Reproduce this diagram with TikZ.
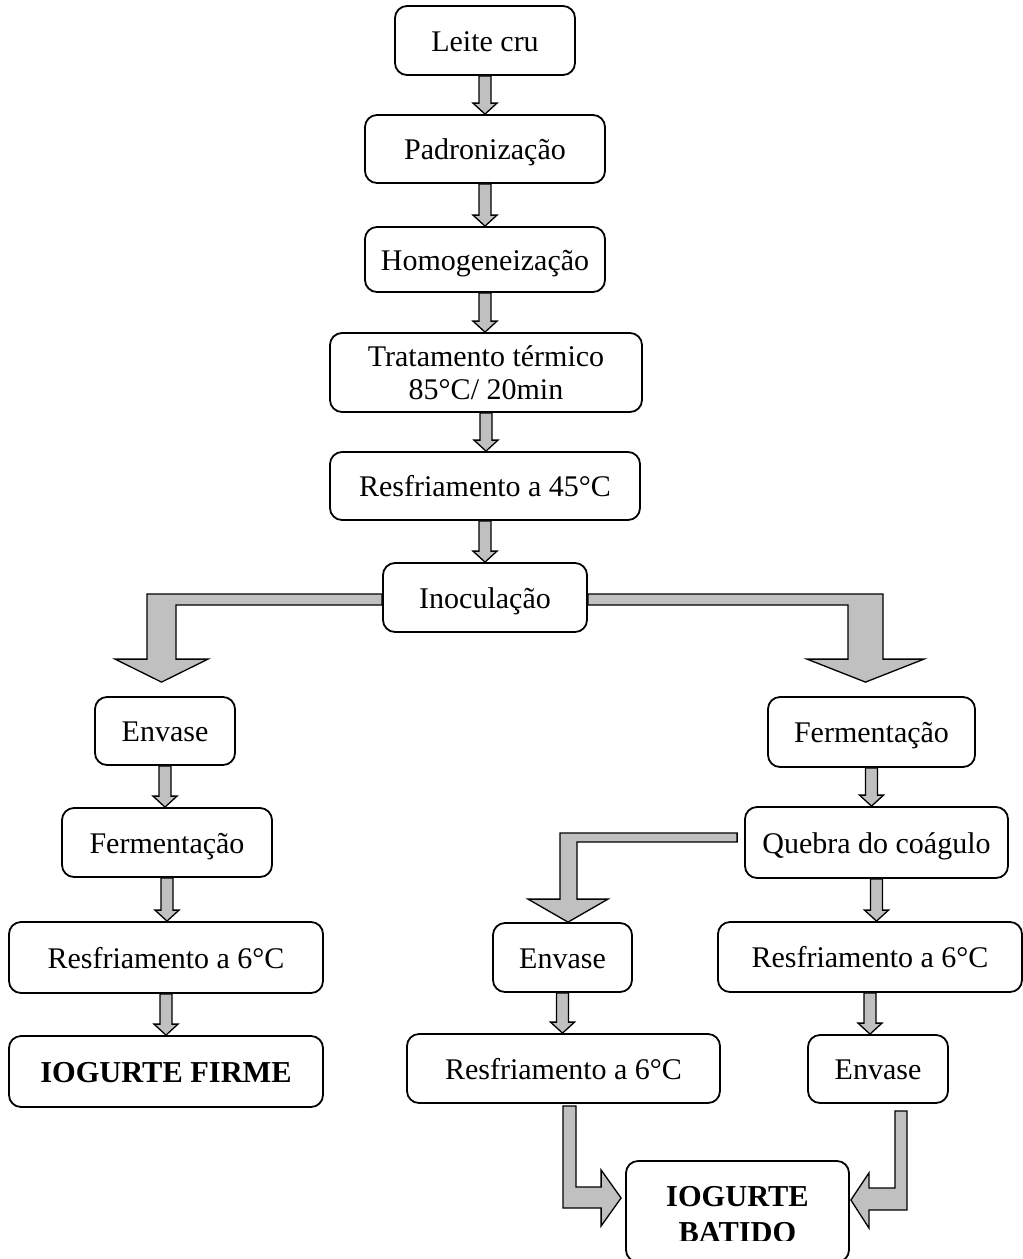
\documentclass[tikz,border=0pt]{standalone}
\usepackage{fontspec}
\setmainfont{Liberation Serif}
\usetikzlibrary{calc}
\definecolor{arrgray}{RGB}{192,192,192}
\tikzset{
  boxbase/.style={draw=black, line width=1.8pt, rounded corners=12pt, inner sep=0pt,
    align=center, font=\fontsize{30}{33}\selectfont},
  box/.style={boxbase, text height=24pt, text depth=3pt},
  bigbox/.style={box, font=\bfseries\fontsize{30.4}{37}\selectfont},
  arrstyle/.style={draw=black, fill=arrgray, line width=1.3pt, line join=miter}
}
\newcommand\smallarr[2]{%
  \draw[arrstyle] let \p1=(#1.south), \p2=(#2.north) in
   (\x1-6pt,\y1) -- (\x1+6pt,\y1) -- (\x1+6pt,\y2+11pt) -- (\x1+12pt,\y2+11pt)
   -- (\x1,\y2) -- (\x1-12pt,\y2+11pt) -- (\x1-6pt,\y2+11pt) -- cycle;}
\begin{document}
\begin{tikzpicture}[x=1pt,y=-1pt]
\useasboundingbox (0,0) rectangle (1023,1259);
% main column
\node[box, minimum width=180, minimum height=69] (leite) at (485,40.5) {Leite cru};
\node[box, minimum width=240, minimum height=68] (padr) at (485,149) {Padronização};
\node[box, minimum width=240, minimum height=65] (homo) at (485,259.5) {Homogeneização};
\node[boxbase, minimum width=312, minimum height=79] (trat) at (486,372.5) {Tratamento térmico\\85°C/ 20min};
\node[box, minimum width=310, minimum height=68] (resf45) at (485,486) {Resfriamento a 45°C};
\node[box, minimum width=204, minimum height=69] (inoc) at (485,597.5) {Inoculação};
% left branch
\node[box, minimum width=140, minimum height=68] (envL) at (165,731) {Envase};
\node[box, minimum width=210, minimum height=69] (fermL) at (167,842.5) {Fermentação};
\node[box, minimum width=314, minimum height=71] (resfL) at (166,957.5) {Resfriamento a 6°C};
\node[bigbox, minimum width=314, minimum height=71] (firme) at (166,1071.5) {IOGURTE FIRME};
% right branch
\node[box, minimum width=207, minimum height=70] (fermR) at (871.5,732) {Fermentação};
\node[box, minimum width=263, minimum height=71] (quebra) at (876.5,842.5) {Quebra do coágulo};
\node[box, minimum width=139, minimum height=69] (envM) at (562.5,957.5) {Envase};
\node[box, minimum width=304, minimum height=70] (resfR) at (870,957) {Resfriamento a 6°C};
\node[box, minimum width=313, minimum height=69] (resfM) at (563.5,1068.5) {Resfriamento a 6°C};
\node[box, minimum width=140, minimum height=68] (envR) at (878,1069) {Envase};
\node[boxbase, minimum width=223, minimum height=101] (batido) at (737.5,1211.5) {};
\begin{scope}
\clip (630,1150) rectangle (845,1240);
\node[font=\bfseries\fontsize{30.4}{36}\selectfont, align=center, inner sep=0pt]
  (batidotext) at (737.5,1215) {IOGURTE\\BATIDO};
\end{scope}
% small arrows
\smallarr{leite}{padr}
\smallarr{padr}{homo}
\smallarr{homo}{trat}
\smallarr{trat}{resf45}
\smallarr{resf45}{inoc}
\smallarr{envL}{fermL}
\smallarr{fermL}{resfL}
\smallarr{resfL}{firme}
\smallarr{fermR}{quebra}
\smallarr{quebra}{resfR}
\smallarr{resfR}{envR}
\smallarr{envM}{resfM}
% big bent arrows
\draw[arrstyle] let \p1=(inoc.west), \p2=(envL.north) in
  (\x1,\y1+3.5pt) -- (\x2-18pt,\y1+3.5pt) -- (\x2-18pt,\y2+37pt) -- (\x2-50pt,\y2+37pt)
  -- (\x2-3.5pt,\y2+14pt) -- (\x2+43pt,\y2+37pt) -- (\x2+11pt,\y2+37pt)
  -- (\x2+11pt,\y1-7.5pt) -- (\x1,\y1-7.5pt) -- cycle;
\draw[arrstyle] let \p1=(inoc.east), \p2=(fermR.north) in
  (\x1,\y1+3.5pt) -- (\x2+11.5pt,\y1+3.5pt) -- (\x2+11.5pt,\y2+37pt) -- (\x2+52.5pt,\y2+37pt)
  -- (\x2-6pt,\y2+14pt) -- (\x2-64.5pt,\y2+37pt) -- (\x2-23.5pt,\y2+37pt)
  -- (\x2-23.5pt,\y1-7.5pt) -- (\x1,\y1-7.5pt) -- cycle;
\draw[arrstyle] let \p1=(quebra.west), \p2=(envM.north) in
  (\x1-7pt,\y1+9.5pt) -- (\x2-2.5pt,\y1+9.5pt) -- (\x2-2.5pt,\y2+23pt) -- (\x2-34.5pt,\y2+23pt)
  -- (\x2+5.5pt,\y2) -- (\x2+45.5pt,\y2+23pt) -- (\x2+14.5pt,\y2+23pt)
  -- (\x2+14.5pt,\y1+0.5pt) -- (\x1-7pt,\y1+0.5pt) -- cycle;
\draw[arrstyle] let \p1=(resfM.south), \p2=(batido.west) in
  (\x1-0.5pt,\y1-2pt) -- (\x1+12.5pt,\y1-2pt) -- (\x1+12.5pt,\y2+24.5pt) -- (\x2-24pt,\y2+24.5pt)
  -- (\x2-24pt,\y2+41.5pt) -- (\x2-4pt,\y2+13.5pt) -- (\x2-24pt,\y2-14.5pt)
  -- (\x2-24pt,\y2+3.5pt) -- (\x1-0.5pt,\y2+3.5pt) -- cycle;
\draw[arrstyle] let \p1=(envR.south), \p2=(batido.east) in
  (\x1+17pt,\y1-7pt) -- (\x1+29pt,\y1-7pt) -- (\x1+29pt,\y2+1.5pt) -- (\x2+19pt,\y2+1.5pt)
  -- (\x2+19pt,\y2-16.5pt) -- (\x2+1pt,\y2+11.5pt) -- (\x2+19pt,\y2+38.5pt)
  -- (\x2+19pt,\y2+23.5pt) -- (\x1+17pt,\y2+23.5pt) -- cycle;
\end{tikzpicture}
\end{document}
